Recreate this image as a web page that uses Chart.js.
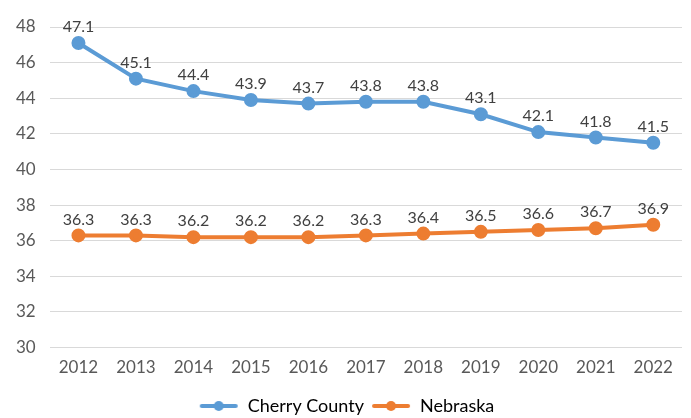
<!DOCTYPE html>
<html>
<head>
<meta charset="utf-8">
<script src="https://cdn.jsdelivr.net/npm/chart.js@4.4.1/dist/chart.umd.min.js"></script>
<style>
  html, body { margin: 0; padding: 0; background: #fff; overflow: hidden; }
  #wrap { width: 691px; height: 418px; }
</style>
</head>
<body>
<div id="wrap"><canvas id="myChart"></canvas></div>
<script>
const years = ['2012', '2013', '2014', '2015', '2016', '2017', '2018', '2019', '2020', '2021', '2022'];
const cherryCounty = [47.1, 45.1, 44.4, 43.9, 43.7, 43.8, 43.8, 43.1, 42.1, 41.8, 41.5];
const nebraska = [36.3, 36.3, 36.2, 36.2, 36.2, 36.3, 36.4, 36.5, 36.6, 36.7, 36.9];

const blue = '#5b9bd5';
const orange = '#ed7d31';
const fontFamily = "'Lato', 'Open Sans', sans-serif";

// legend marker: short line with a dot in the middle
function legendMarker(color) {
  const c = document.createElement('canvas');
  c.width = 40; c.height = 12;
  const g = c.getContext('2d');
  g.strokeStyle = color;
  g.lineWidth = 4;
  g.lineCap = 'round';
  g.beginPath(); g.moveTo(3, 6); g.lineTo(37, 6); g.stroke();
  g.fillStyle = color;
  g.beginPath(); g.arc(20, 6, 5, 0, Math.PI * 2); g.fill();
  return c;
}

// value labels above each point
const pointLabels = {
  id: 'pointLabels',
  afterDatasetsDraw(chart) {
    const ctx = chart.ctx;
    ctx.save();
    ctx.font = '16px ' + fontFamily;
    ctx.fillStyle = '#404040';
    ctx.textAlign = 'center';
    ctx.textBaseline = 'bottom';
    chart.data.datasets.forEach((ds, i) => {
      chart.getDatasetMeta(i).data.forEach((pt, j) => {
        ctx.fillText(ds.data[j].toFixed(1), pt.x, pt.y - 8);
      });
    });
    ctx.restore();
  }
};

new Chart(document.getElementById('myChart'), {
  type: 'line',
  data: {
    labels: years,
    datasets: [{
      label: 'Cherry County',
      data: cherryCounty,
      borderColor: blue,
      backgroundColor: blue,
      borderWidth: 4,
      pointRadius: 5,
      pointHoverRadius: 5,
      pointStyle: 'circle',
      tension: 0
    }, {
      label: 'Nebraska',
      data: nebraska,
      borderColor: orange,
      backgroundColor: orange,
      borderWidth: 4,
      pointRadius: 5,
      pointHoverRadius: 5,
      pointStyle: 'circle',
      tension: 0
    }]
  },
  options: {
    responsive: true,
    maintainAspectRatio: false,
    animation: false,
    layout: { padding: { top: 27, left: 2, right: 0, bottom: -7 } },
    plugins: {
      tooltip: { enabled: false },
      legend: {
        position: 'bottom',
        labels: {
          usePointStyle: true,
          pointStyleWidth: 40,
          color: '#595959',
          font: { size: 18, family: fontFamily },
          padding: 7,
          generateLabels(chart) {
            return chart.data.datasets.map((ds, i) => ({
              text: ds.label,
              fillStyle: ds.borderColor,
              strokeStyle: ds.borderColor,
              pointStyle: legendMarker(ds.borderColor),
              datasetIndex: i,
              hidden: false
            }));
          }
        }
      }
    },
    scales: {
      x: {
        offset: true,
        grid: { display: false },
        border: { display: false },
        ticks: { color: '#595959', font: { size: 17, family: fontFamily }, padding: 2 },
        afterFit(scale) { scale.height += 10; }
      },
      y: {
        min: 30,
        max: 48,
        ticks: { stepSize: 2, color: '#595959', font: { size: 17, family: fontFamily }, padding: 14 },
        grid: { color: '#d9d9d9', lineWidth: 1, drawTicks: false },
        border: { display: false }
      }
    }
  },
  plugins: [pointLabels]
});
</script>
</body>
</html>
